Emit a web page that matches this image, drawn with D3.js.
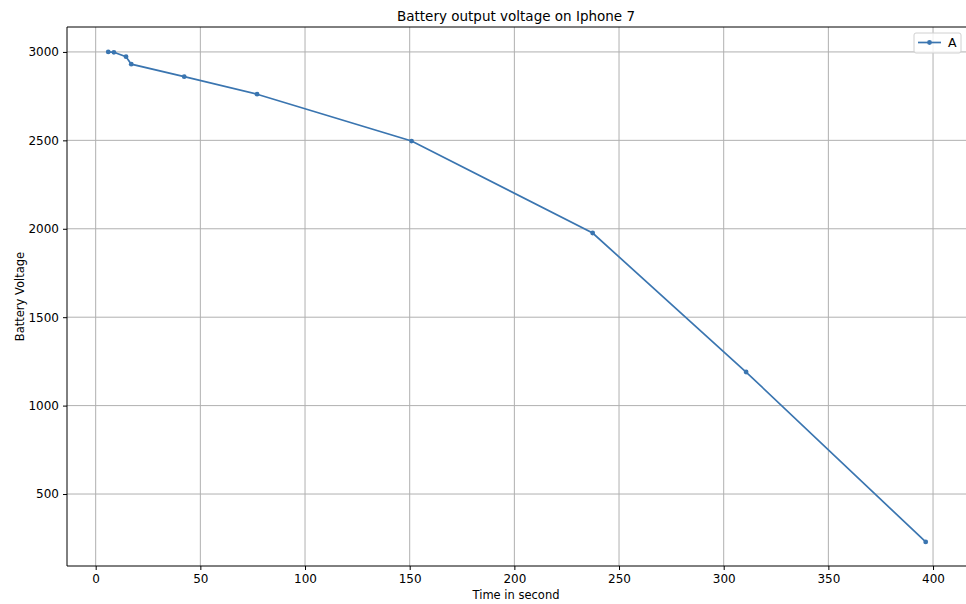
<!DOCTYPE html>
<html>
<head>
<meta charset="utf-8">
<script src="https://cdn.jsdelivr.net/npm/d3@7"></script>
<style>
  body { margin: 0; background: #fff; overflow: hidden; }
  svg { font-family: "DejaVu Sans", sans-serif; display: block; }
</style>
</head>
<body>
<script>
// data
const times = [6, 8.7, 14.5, 17, 42.3, 77.1, 150.9, 237.4, 310.7, 396.5]
const voltage = [3000, 2998, 2973, 2931, 2860, 2761, 2496, 1976, 1190, 229]
const xTicks = [0, 50, 100, 150, 200, 250, 300, 350, 400]
const yTicks = [500, 1000, 1500, 2000, 2500, 3000]
const seriesName = "A"

const w = 966
const h = 604
const margin = {top: 27, right: -2, bottom: 38, left: 67}
const lineColor = "#3a75b0"

const svg = d3.select("body").append("svg")
    .attr("width", w)
    .attr("height", h)

const x = d3.scaleLinear()
    .domain([-13.7, 416.7])
    .range([margin.left, w - margin.right])
const y = d3.scaleLinear()
    .domain([93, 3141])
    .range([h - margin.bottom, margin.top])

// grid lines
svg.append("g").selectAll("line")
    .data(xTicks).enter().append("line")
    .attr("x1", d => x(d)).attr("x2", d => x(d))
    .attr("y1", margin.top).attr("y2", h - margin.bottom)
    .attr("stroke", "#b0b0b0").attr("stroke-width", 1)
svg.append("g").selectAll("line")
    .data(yTicks).enter().append("line")
    .attr("y1", d => y(d)).attr("y2", d => y(d))
    .attr("x1", margin.left).attr("x2", w)
    .attr("stroke", "#b0b0b0").attr("stroke-width", 1)

// axes
const xAxis = svg.append("g")
    .attr("transform", `translate(0,${h - margin.bottom})`)
    .call(d3.axisBottom(x).tickValues(xTicks).tickFormat(d3.format("d")).tickSize(4).tickPadding(4))
const yAxis = svg.append("g")
    .attr("transform", `translate(${margin.left},0)`)
    .call(d3.axisLeft(y).tickValues(yTicks).tickFormat(d3.format("d")).tickSize(4).tickPadding(4))
;[xAxis, yAxis].forEach(a => {
    a.selectAll("text").attr("font-size", 12).attr("fill", "#000").attr("font-family", "DejaVu Sans")
    a.selectAll("line").attr("stroke", "#000")
    a.select(".domain").remove()
})

// frame: right spine sits just past the picture edge
const frame = [
    [margin.left, margin.top, w, margin.top],
    [margin.left, h - margin.bottom, w, h - margin.bottom],
    [margin.left, margin.top, margin.left, h - margin.bottom]
]
svg.append("g").selectAll("line")
    .data(frame).enter().append("line")
    .attr("x1", d => d[0]).attr("y1", d => d[1])
    .attr("x2", d => d[2]).attr("y2", d => d[3])
    .attr("stroke", "#000").attr("stroke-width", 1)

// the line with small dots
const data = times.map((t, i) => ({t: t, v: voltage[i]}))
const line = d3.line().x(d => x(d.t)).y(d => y(d.v))
svg.append("path")
    .datum(data)
    .attr("d", line)
    .attr("fill", "none")
    .attr("stroke", lineColor)
    .attr("stroke-width", 1.7)
svg.append("g").selectAll("circle")
    .data(data).enter().append("circle")
    .attr("cx", d => x(d.t)).attr("cy", d => y(d.v))
    .attr("r", 2.4)
    .attr("fill", lineColor)

// title and labels
svg.append("text")
    .attr("x", 516).attr("y", 21)
    .attr("text-anchor", "middle").attr("font-size", 13.5)
    .text("Battery output voltage on Iphone 7")
svg.append("text")
    .attr("x", 516).attr("y", 599)
    .attr("text-anchor", "middle").attr("font-size", 11.5)
    .text("Time in second")
svg.append("text")
    .attr("transform", `translate(24,${(margin.top + h - margin.bottom) / 2}) rotate(-90)`)
    .attr("text-anchor", "middle").attr("font-size", 11.5)
    .text("Battery Voltage")

// legend
const lg = svg.append("g").attr("transform", "translate(914,33)")
lg.append("rect")
    .attr("width", 47).attr("height", 20).attr("rx", 2)
    .attr("fill", "#fff").attr("fill-opacity", 0.8)
    .attr("stroke", "#d0d0d0")
lg.append("line")
    .attr("x1", 4).attr("x2", 27).attr("y1", 9.5).attr("y2", 9.5)
    .attr("stroke", lineColor).attr("stroke-width", 1.7)
lg.append("circle").attr("cx", 15.5).attr("cy", 9.5).attr("r", 2.4).attr("fill", lineColor)
lg.append("text")
    .attr("x", 34).attr("y", 14).attr("font-size", 12.5)
    .text(seriesName)
</script>
</body>
</html>
